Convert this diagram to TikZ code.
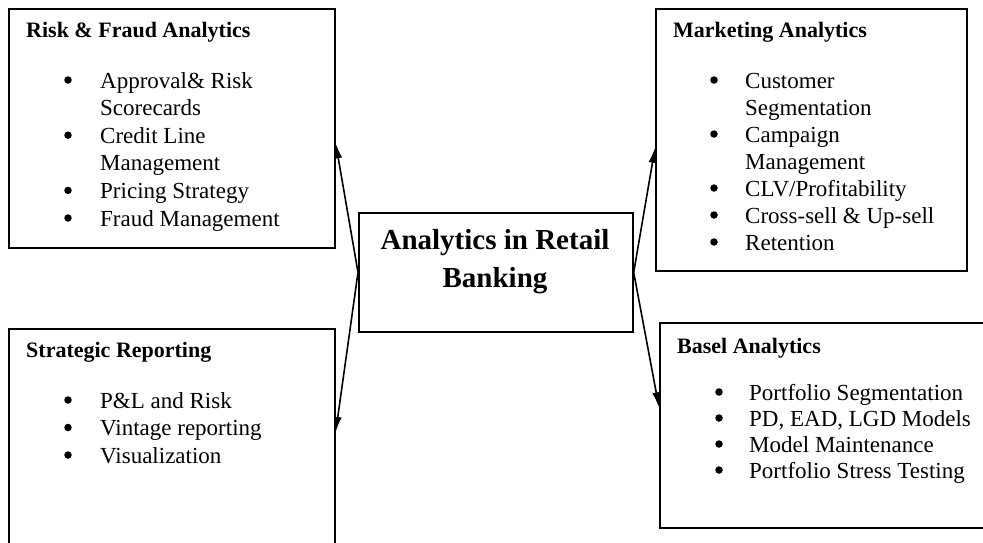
\documentclass[tikz,border=0pt]{standalone}
\usepackage{fontspec}
\setmainfont{Liberation Serif}
\usetikzlibrary{arrows.meta}
\begin{document}
\begin{tikzpicture}[x=1pt,y=-1pt,
  panel/.style={draw=black, line width=1.7pt, anchor=north west, inner sep=0pt},
  head/.style={anchor=base west, inner sep=0pt, font=\fontsize{22}{24}\selectfont\bfseries},
  entry/.style={anchor=base west, inner sep=0pt, font=\fontsize{23}{26}\selectfont},
  bulletdot/.style={circle, fill=black, inner sep=0pt, minimum size=7.5pt},
  corehead/.style={anchor=base, inner sep=0pt, font=\fontsize{29}{36}\selectfont\bfseries},
  link/.style={line width=1.6pt, -{Latex[length=15pt,width=8pt]}},
]
\useasboundingbox (0,0) rectangle (983,542);
\clip (0,0) rectangle (983,542);

% frames
\node[panel, minimum width=326pt, minimum height=239pt] (risk)  at (8,8) {};
\node[panel, minimum width=311pt, minimum height=262pt] (mkt)   at (655,8) {};
\node[panel, minimum width=274pt, minimum height=119pt] (core)  at (358,212) {};
\node[panel, minimum width=326pt, minimum height=242pt] (strat) at (8,328) {};
\node[panel, minimum width=341pt, minimum height=205pt] (basel) at (659,322) {};

% central label
\node[corehead] (core-1) at (495,249) {Analytics in Retail};
\node[corehead] (core-2) at (495,287) {Banking};

% headings
\node[head] (risk-h)  at (26,37)  {Risk \& Fraud Analytics};
\node[head] (mkt-h)   at (673,37) {Marketing Analytics};
\node[head] (strat-h) at (26,357) {Strategic Reporting};
\node[head] (basel-h) at (677,353) {Basel Analytics};

% bullet lists (1 = new bullet, 0 = continuation line)
\foreach \b/\t [count=\i] in {1/{Approval\& Risk},0/Scorecards,1/{Credit Line},0/Management,1/{Pricing Strategy},1/{Fraud Management}} {
  \node[entry] (risk-\i) at (100,{88+27.6*(\i-1)}) {\t};
  \ifnum\b=1 \node[bulletdot] (risk-d\i) at (68,{80+27.6*(\i-1)}) {};\fi
}
\foreach \b/\t [count=\i] in {1/Customer,0/Segmentation,1/Campaign,0/Management,1/{CLV/Profitability},1/{Cross-sell \& Up-sell},1/Retention} {
  \node[entry] (mkt-\i) at (745,{88+27*(\i-1)}) {\t};
  \ifnum\b=1 \node[bulletdot] (mkt-d\i) at (714,{80+27*(\i-1)}) {};\fi
}
\foreach \t [count=\i] in {P\&L and Risk,Vintage reporting,Visualization} {
  \node[entry] (strat-\i) at (100,{408+27.5*(\i-1)}) {\t};
  \node[bulletdot] (strat-d\i) at (68,{400+27.5*(\i-1)}) {};
}
\foreach \t [count=\i] in {Portfolio Segmentation,{PD, EAD, LGD Models},Model Maintenance,Portfolio Stress Testing} {
  \node[entry] (basel-\i) at (749,{400+26*(\i-1)}) {\t};
  \node[bulletdot] (basel-d\i) at (719,{392+26*(\i-1)}) {};
}

% connectors
\draw[link] (core.west) -- ([yshift=-15pt]risk.east);
\draw[link] (core.west) -- ([yshift=18pt]strat.east);
\draw[link] (core.east) -- ([yshift=-8pt]mkt.west);
\draw[link] (core.east) -- ([yshift=18pt]basel.west);
\end{tikzpicture}
\end{document}
